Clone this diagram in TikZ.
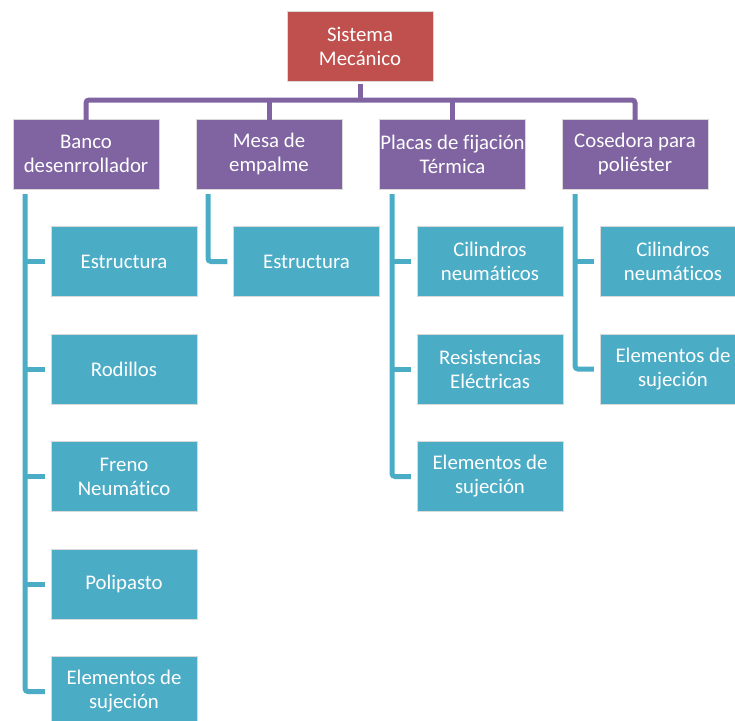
\documentclass[tikz,border=0pt]{standalone}
\usepackage{fontspec}
\setmainfont[Ligatures=NoCommon]{Carlito}
\definecolor{cred}{RGB}{192,80,77}
\definecolor{cpurple}{RGB}{128,100,162}
\definecolor{cteal}{RGB}{75,172,198}
\tikzset{
  box/.style={minimum width=146pt, minimum height=70pt, inner sep=0pt, align=center,
    text=white, draw=white!85!black, line width=0.4pt,
    font=\fontsize{20.8}{24}\selectfont},
  topbox/.style={box, fill=cred},
  midbox/.style={box, fill=cpurple},
  leaf/.style={box, fill=cteal},
  pline/.style={draw=cpurple, line width=5pt, rounded corners=3pt},
  tline/.style={draw=cteal, line width=5pt, rounded corners=3pt},
}
\begin{document}
\begin{tikzpicture}[x=1pt,y=-1pt]
\useasboundingbox (0,0) rectangle (735,720);
\clip (0,0) rectangle (735,720);
\node[topbox] (top) at (360,46.5) {Sistema\\Mecánico};
\node[midbox] (b1) at (86,154) {Banco\\desenrrollador};
\node[midbox] (b2) at (269,154) {Mesa de\\empalme};
\node[midbox] (b3) at (452.5,154) {Placas de fijación\\Térmica};
\node[midbox] (b4) at (635,154) {Cosedora para\\poliéster};
% children of b1
\node[leaf] (c11) at (124,261.5) {Estructura};
\node[leaf] (c12) at (124,369) {Rodillos};
\node[leaf] (c13) at (124,476.5) {Freno\\Neumático};
\node[leaf] (c14) at (124,584) {Polipasto};
\node[leaf] (c15) at (124,691.5) {Elementos de\\sujeción};
% children of b2
\node[leaf] (c21) at (306.5,261.5) {Estructura};
% children of b3
\node[leaf] (c31) at (490,261.5) {Cilindros\\neumáticos};
\node[leaf] (c32) at (490,369) {Resistencias\\Eléctricas};
\node[leaf] (c33) at (490,476.5) {Elementos de\\sujeción};
% children of b4
\node[leaf] (c41) at (673,261.5) {Cilindros\\neumáticos};
\node[leaf] (c42) at (673,369) {Elementos de\\sujeción};
% purple connectors
\coordinate (bar) at (360,100);
\draw[pline] ([yshift=-2pt]top.south) -- (bar);
\draw[pline] ([yshift=-6pt]b1.north) |- (bar) -| ([yshift=-6pt]b4.north);
\draw[pline] ([yshift=-6pt]b2.north) -- (b2.north |- bar);
\draw[pline] ([yshift=-6pt]b3.north) -- (b3.north |- bar);
% teal connectors
\coordinate (v1) at (25,194);
\coordinate (v2) at (208,194);
\coordinate (v3) at (392,194);
\coordinate (v4) at (575,194);
\draw[tline] (v1) |- ([xshift=-6pt]c15.west);
\foreach \c in {c11,c12,c13,c14} \draw[tline] (v1 |- \c.west) -- ([xshift=-6pt]\c.west);
\draw[tline] (v2) |- ([xshift=-6pt]c21.west);
\draw[tline] (v3) |- ([xshift=-6pt]c33.west);
\foreach \c in {c31,c32} \draw[tline] (v3 |- \c.west) -- ([xshift=-6pt]\c.west);
\draw[tline] (v4) |- ([xshift=-6pt]c42.west);
\draw[tline] (v4 |- c41.west) -- ([xshift=-6pt]c41.west);
\end{tikzpicture}
\end{document}
